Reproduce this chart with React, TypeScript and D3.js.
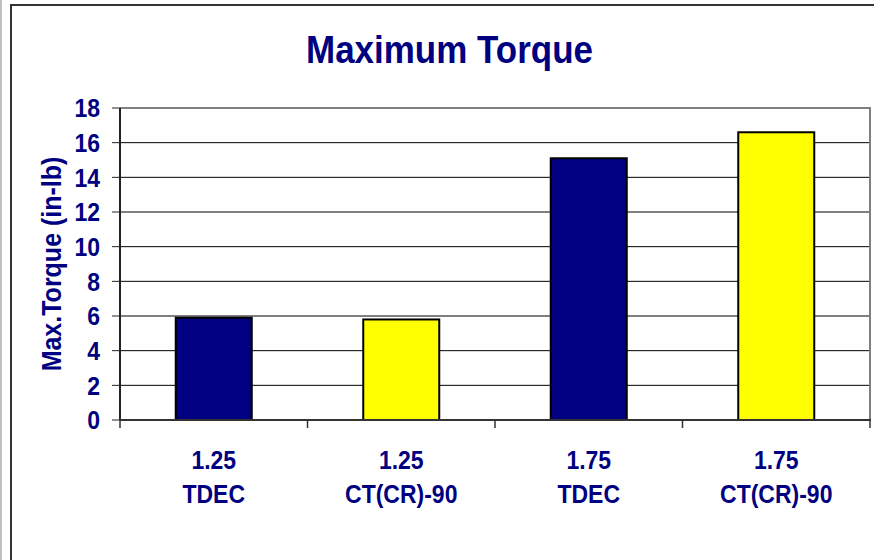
import React from "react";
import * as d3 from "d3";

const categories = ["1.25|TDEC", "1.25|CT(CR)-90", "1.75|TDEC", "1.75|CT(CR)-90"];
const values = [5.9, 5.8, 15.1, 16.6];
const barColors = ["#000080", "#FFFF00", "#000080", "#FFFF00"];
const yTicks = [0, 2, 4, 6, 8, 10, 12, 14, 16, 18];

const W = 874;
const H = 560;
const plot = { left: 120, right: 870, top: 108, bottom: 420 };
const navy = "#000080";
const font = "Liberation Sans, Arial, sans-serif";
const SY = 1.12;

export default function App() {
  const x = d3
    .scaleBand<string>()
    .domain(categories)
    .range([plot.left, plot.right])
    .paddingInner(0)
    .paddingOuter(0);
  const y = d3.scaleLinear().domain([0, 18]).range([plot.bottom, plot.top]);
  const barW = 76;
  const bounds = [...categories.map((c) => x(c)!), plot.right];

  const T = (props: { x: number; y: number; size: number; anchor?: string; rot?: number; children: any }) => (
    <text
      transform={`translate(${props.x},${props.y}) rotate(${props.rot || 0}) scale(1,${SY})`}
      textAnchor={props.anchor || "middle"}
      fill={navy}
      fontFamily={font}
      fontWeight="bold"
      fontSize={props.size}
    >
      {props.children}
    </text>
  );

  return (
    <svg
      width={W}
      height={H}
      style={{ position: "absolute", left: 0, top: 0, background: "#fff" }}
    >
      <rect x={0} y={0} width={2} height={H} fill="#c0c0c0" />
      <rect x={11} y={5} width={W + 10} height={H + 10} fill="#fff" stroke="#333" strokeWidth={2} />
      <T x={449.5} y={63} size={35}>Maximum Torque</T>
      {yTicks.slice(1, -1).map((t) => (
        <line key={t} x1={plot.left} x2={plot.right} y1={y(t)} y2={y(t)} stroke="#000" strokeWidth={1} />
      ))}
      <line x1={plot.left} x2={plot.right + 1} y1={plot.top} y2={plot.top} stroke="#808080" strokeWidth={2} />
      <line x1={plot.right} x2={plot.right} y1={plot.top} y2={plot.bottom} stroke="#808080" strokeWidth={2} />
      {categories.map((c, i) => {
        const cx = x(c)! + x.bandwidth() / 2;
        return (
          <rect
            key={c}
            x={cx - barW / 2}
            y={y(values[i])}
            width={barW}
            height={plot.bottom - y(values[i])}
            fill={barColors[i]}
            stroke="#000"
            strokeWidth={2}
          />
        );
      })}
      <line x1={plot.left} x2={plot.left} y1={plot.top} y2={plot.bottom} stroke="#222" strokeWidth={2} />
      <line x1={plot.left} x2={plot.right + 1} y1={plot.bottom} y2={plot.bottom} stroke="#333" strokeWidth={2} />
      {yTicks.map((t) => (
        <g key={t}>
          <line x1={plot.left - 8} x2={plot.left} y1={y(t)} y2={y(t)} stroke="#222" strokeWidth={1} />
          <T x={100} y={y(t) + 9.3} size={23} anchor="end">{t}</T>
        </g>
      ))}
      {bounds.map((b, i) => (
        <line key={i} x1={b} x2={b} y1={plot.bottom} y2={plot.bottom + 8} stroke="#333" strokeWidth={1.5} />
      ))}
      {categories.map((c) => {
        const [l1, l2] = c.split("|");
        const cx = x(c)! + x.bandwidth() / 2;
        return (
          <g key={c}>
            <T x={cx} y={469} size={23}>{l1}</T>
            <T x={cx} y={503} size={23}>{l2}</T>
          </g>
        );
      })}
      <T x={61} y={264} size={25} rot={-90}>Max.Torque (in-lb)</T>
    </svg>
  );
}
